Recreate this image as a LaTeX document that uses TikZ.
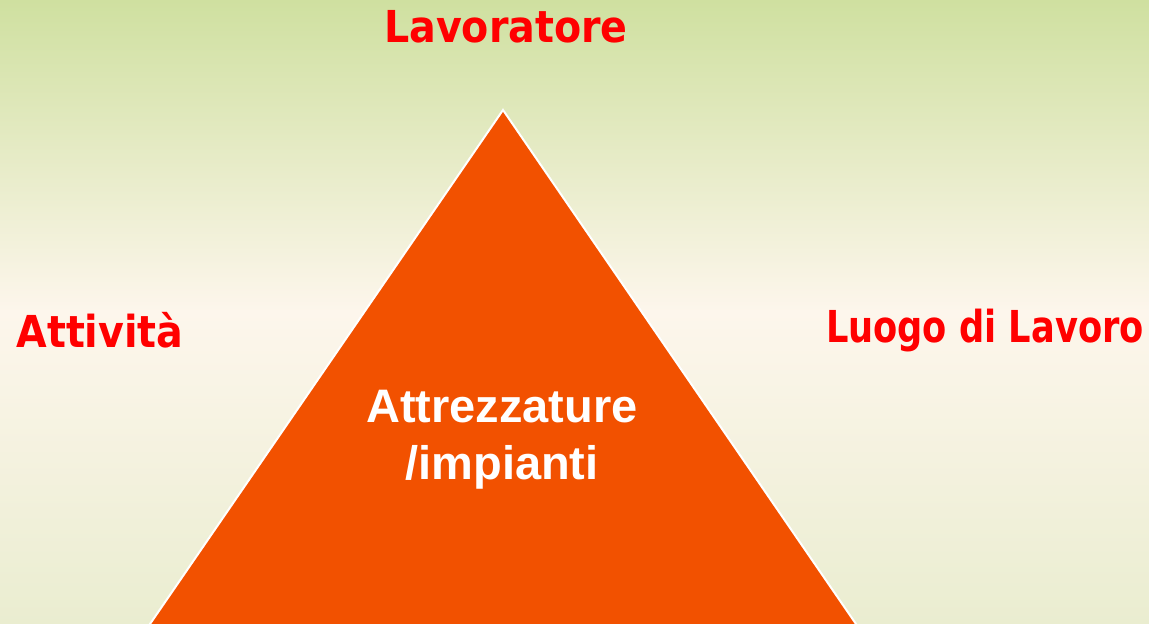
\documentclass[tikz,border=0pt]{standalone}
\usepackage{fontspec}
\usetikzlibrary{calc}
\setmainfont{Liberation Sans}
\newfontfamily\tahfont{DejaVu Sans Condensed Bold}
\definecolor{bgtop}{RGB}{207,224,160}
\definecolor{bgmid}{RGB}{253,246,236}
\definecolor{bgbot}{RGB}{234,237,208}
\definecolor{triorange}{RGB}{242,81,0}
\definecolor{lblred}{RGB}{255,0,0}
\begin{document}
\begin{tikzpicture}[x=1pt,y=1pt,
  redlabel/.style={text=lblred,inner sep=0pt,font=\tahfont\fontsize{44}{52}\selectfont},
  centerlabel/.style={text=white,inner sep=0pt,align=center,font=\bfseries\fontsize{47}{57}\selectfont}]
\useasboundingbox (0,0) rectangle (1149,624);
\shade[top color=bgtop,bottom color=bgbot,middle color=bgmid] (0,0) rectangle (1149,624);
\coordinate (apex) at (503,514);
\coordinate (bl) at (150,0);
\coordinate (br) at (856,0);
\begin{scope}
\clip (0,0) rectangle (1149,624);
\draw[white,line width=2pt,fill=triorange,line join=miter] (apex) -- ($(apex)!1.05!(br)$) -- ($(apex)!1.05!(bl)$) -- cycle;
\end{scope}
\node[redlabel,anchor=base] (lav) at (506,581) {Lavoratore};
\node[redlabel,anchor=base] (att) at (100,276) {Attività};
\node[redlabel,anchor=base] (luo) at (985,281) {\scalebox{0.89}[1]{Luogo di Lavoro}};
\node[centerlabel,anchor=base] (imp) at (502,144) {Attrezzature\\/impianti};
\end{tikzpicture}
\end{document}
